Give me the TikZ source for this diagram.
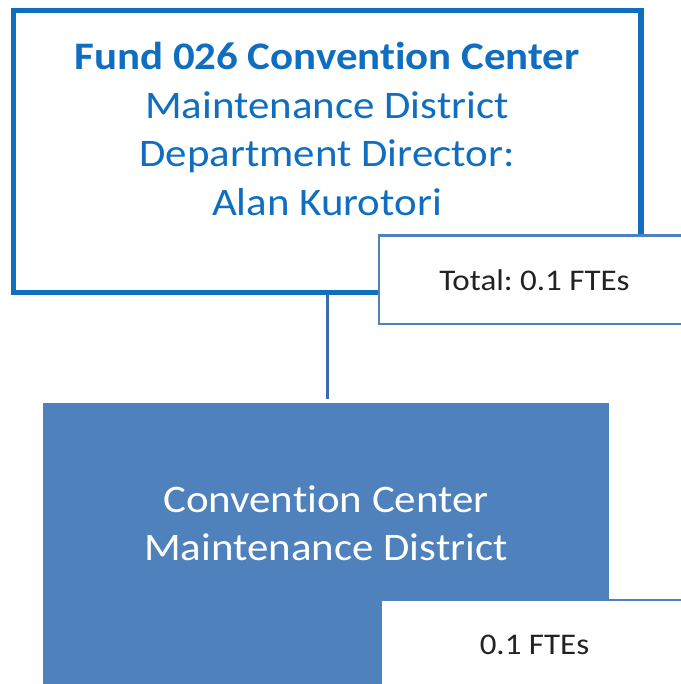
\documentclass[tikz,border=0pt]{standalone}
\usepackage{fontspec}
\setmainfont{Carlito}[Ligatures=NoCommon,FakeStretch=1.1]
\usetikzlibrary{positioning,calc}
\definecolor{DirBlue}{HTML}{0F6EC0}
\definecolor{UnitBlue}{HTML}{4F81BD}
\definecolor{LinkBlue}{HTML}{3D6CAD}
\definecolor{InkGray}{HTML}{222222}

\begin{document}
\frenchspacing
\begin{tikzpicture}[
  x=1pt,y=-1pt,
  dirbox/.style={draw=DirBlue,line width=5.5pt,fill=white,minimum width=627.5pt,minimum height=282pt,inner sep=0pt},
  unitbox/.style={fill=UnitBlue,minimum width=565.5pt,minimum height=317pt,inner sep=0pt},
  ftebox/.style={draw=UnitBlue,line width=2.5pt,fill=white,text=InkGray,minimum width=311pt,minimum height=88.5pt,inner sep=0pt,font=\fontsize{30}{36}\selectfont},
  bigtext/.style={align=center,inner sep=0pt,font=\fontsize{39}{48.7}\selectfont},
  link/.style={draw=LinkBlue,line width=3pt}
]
\useasboundingbox (0,0) rectangle (680,684);
% director box
\node[dirbox] (dir) at (327,151.4) {};
\node[bigtext,text=DirBlue,anchor=north] (dirname) at (327,42) {\textbf{Fund 026 Convention Center}\\Maintenance District\\Department Director:\\Alan Kurotori};
% unit box
\node[unitbox] (unit) at (325.75,561.5) {};
\node[bigtext,text=white,anchor=north] (unitname) at (326,485) {Convention Center\\Maintenance District};
\draw[link,shorten >=4pt] (dir.south) -- (dir.south |- unit.north);
% FTE counts
\node[ftebox] (total) at (534.5,279.75) {Total: 0.1 FTEs};
\node[ftebox,minimum width=307pt,minimum height=90pt] (unitfte) at (534.5,645) {0.1 FTEs};
\end{tikzpicture}
\end{document}
